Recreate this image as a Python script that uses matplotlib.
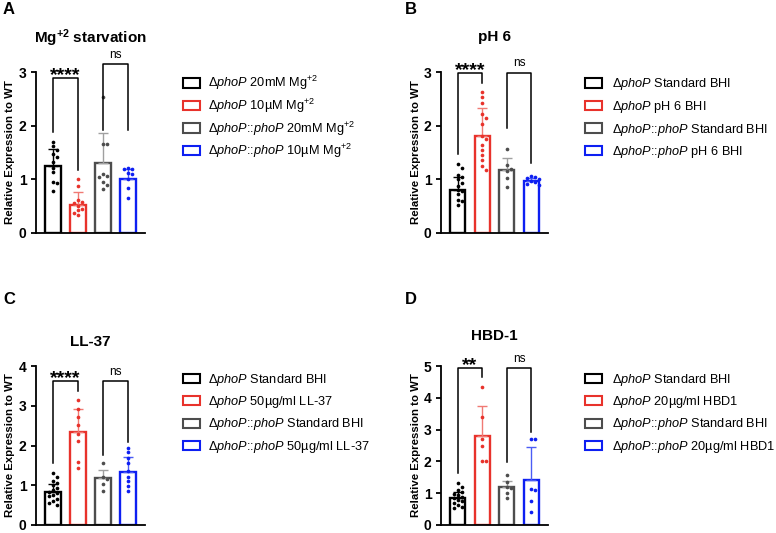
import numpy as np
import matplotlib
matplotlib.use("Agg")
import matplotlib.pyplot as plt
from matplotlib.patches import Rectangle

plt.rcParams['font.family'] = ['Liberation Sans', 'DejaVu Sans']
plt.rcParams['mathtext.fontset'] = 'custom'
plt.rcParams['mathtext.rm'] = 'Liberation Sans'
plt.rcParams['mathtext.it'] = 'Liberation Sans:italic'
plt.rcParams['mathtext.bf'] = 'Liberation Sans:bold'

# ---- data ----
a_means = [1.25, 0.53, 1.30, 1.01]
a_sd = [0.31, 0.23, 0.56, 0.19]
a_pts = [[1.70, 1.62, 1.55, 1.48, 1.41, 1.33, 1.22, 1.14, 0.95, 0.93, 0.78],
         [1.00, 0.88, 0.62, 0.58, 0.55, 0.50, 0.45, 0.42, 0.38, 0.33],
         [2.54, 1.66, 1.66, 1.10, 1.07, 1.04, 0.95, 0.90, 0.82],
         [1.21, 1.20, 1.19, 1.12, 1.10, 1.00, 0.83, 0.66]]
a_brackets = [(1.89, 1.17, 2.89, '****'), (1.92, 1.92, 3.15, 'ns')]
a_labels = ['Δ$\\mathit{phoP}$ 20mM Mg$^{+2}$', 'Δ$\\mathit{phoP}$ 10µM Mg$^{+2}$',
            'Δ$\\mathit{phoP}$::$\\mathit{phoP}$ 20mM Mg$^{+2}$',
            'Δ$\\mathit{phoP}$::$\\mathit{phoP}$ 10µM Mg$^{+2}$']

b_means = [0.80, 1.81, 1.17, 0.97]
b_sd = [0.25, 0.51, 0.22, 0.05]
b_pts = [[1.29, 1.22, 1.08, 1.04, 1.00, 0.93, 0.88, 0.80, 0.78, 0.72, 0.62, 0.60, 0.53],
         [2.63, 2.54, 2.42, 2.21, 2.14, 2.04, 1.81, 1.75, 1.64, 1.55, 1.45, 1.36, 1.24, 1.17],
         [1.56, 1.27, 1.20, 1.15, 1.02, 0.86],
         [1.06, 1.05, 1.03, 1.00, 0.97, 0.95, 0.92, 0.90]]
b_brackets = [(1.48, 2.79, 2.99, '****'), (1.95, 1.30, 2.99, 'ns')]
b_labels = ['Δ$\\mathit{phoP}$ Standard BHI', 'Δ$\\mathit{phoP}$ pH 6 BHI',
            'Δ$\\mathit{phoP}$::$\\mathit{phoP}$ Standard BHI',
            'Δ$\\mathit{phoP}$::$\\mathit{phoP}$ pH 6 BHI']

c_means = [0.82, 2.33, 1.17, 1.34]
c_sd = [0.22, 0.60, 0.21, 0.37]
c_pts = [[1.30, 1.20, 1.11, 1.05, 1.00, 0.92, 0.88, 0.84, 0.80, 0.75, 0.72, 0.65, 0.61, 0.55, 0.51],
         [3.15, 2.92, 2.72, 2.52, 2.30, 2.12, 1.58, 1.43],
         [1.56, 1.20, 1.15, 1.02, 0.86],
         [1.94, 1.83, 1.69, 1.57, 1.36, 1.22, 1.11, 0.99, 0.86]]
c_brackets = [(1.57, 3.36, 3.62, '****'), (1.77, 2.10, 3.62, 'ns')]
c_labels = ['Δ$\\mathit{phoP}$ Standard BHI', 'Δ$\\mathit{phoP}$ 50µg/ml LL-37',
            'Δ$\\mathit{phoP}$::$\\mathit{phoP}$ Standard BHI',
            'Δ$\\mathit{phoP}$::$\\mathit{phoP}$ 50µg/ml LL-37']

d_means = [0.84, 2.80, 1.18, 1.42]
d_sd = [0.21, 0.93, 0.21, 1.02]
d_pts = [[1.31, 1.21, 1.10, 1.05, 0.98, 0.95, 0.88, 0.84, 0.80, 0.74, 0.70, 0.64, 0.58, 0.53],
         [4.33, 3.40, 2.72, 2.48, 2.01, 2.01],
         [1.57, 1.36, 1.20, 1.16, 1.00, 0.84],
         [2.70, 2.72, 1.10, 1.12, 0.74, 0.41]]
d_brackets = [(1.63, 4.65, 4.94, '**'), (1.99, 2.93, 4.94, 'ns')]
d_labels = ['Δ$\\mathit{phoP}$ Standard BHI', 'Δ$\\mathit{phoP}$ 20µg/ml HBD1',
            'Δ$\\mathit{phoP}$::$\\mathit{phoP}$ Standard BHI',
            'Δ$\\mathit{phoP}$::$\\mathit{phoP}$ 20µg/ml HBD1']

titles = ['Mg$^{\\mathbf{+2}}$ starvation', 'pH 6', 'LL-37', 'HBD-1']
letters = ['A', 'B', 'C', 'D']
ymaxes = [3, 3, 4, 5]

colors = ['#000000', '#e8322b', '#4d4d4d', '#0d1ff2']
err_colors = ['#000000', '#f07a74', '#a0a0a0', '#4b5cf5']

W, H = 776, 533
fig = plt.figure(figsize=(W / 100, H / 100), dpi=100)


def fx(px):
    return px / W


def fy(px):
    return 1 - px / H


# layout in pixels: (left, right, top, bottom), title gap, legend box x, text x, first row y, letter y
layouts = [(36, 145, 72, 233, 29, 183, 208, 83, 10),
           (441, 548, 72, 233, 31, 585, 612, 83, 10),
           (36, 145, 366, 525, 20, 183, 208, 378, 300),
           (441, 548, 366, 525, 26, 585, 612, 378, 300)]


def spread(vals, px_y, px_x, d=4.0):
    # simple deterministic beeswarm so dots do not overlap
    vals = np.asarray(vals)
    order = np.argsort(-vals)
    placed = []
    xs = np.zeros(len(vals))
    for i in order:
        y = vals[i] * px_y
        x = 0.0
        for k in [0, 1, -1, 2, -2, 3, -3]:
            x = k * d
            if all((x - qx) ** 2 + (y - qy) ** 2 >= d * d for qx, qy in placed):
                break
        placed.append((x, y))
        xs[i] = x / px_x
    return xs


panels = [(a_means, a_sd, a_pts, a_brackets, a_labels),
          (b_means, b_sd, b_pts, b_brackets, b_labels),
          (c_means, c_sd, c_pts, c_brackets, c_labels),
          (d_means, d_sd, d_pts, d_brackets, d_labels)]

xlo, xhi = -0.68, 3.68
for p, (means, sds, pts, brackets, labels) in enumerate(panels):
    l, r, t, b, tgap, boxx, textx, row0, lety = layouts[p]
    ax = fig.add_axes([fx(l), fy(b), fx(r - l), (b - t) / H])
    ymax = ymaxes[p]
    ax.set_xlim(xlo, xhi)
    ax.set_ylim(0, ymax)
    px_x = (r - l) / (xhi - xlo)
    px_y = (b - t) / ymax

    x = np.arange(len(means))
    ax.bar(x, means, width=0.62, facecolor='white', edgecolor=colors,
           linewidth=1.7, zorder=2)
    for i in range(len(means)):
        ax.errorbar(x[i], means[i], yerr=[[0], [sds[i]]], fmt='none',
                    ecolor=err_colors[i], elinewidth=1.0, capsize=3.5,
                    capthick=1.0, zorder=3)
        jit = spread(pts[i], px_y, px_x)
        ax.scatter(x[i] + jit, pts[i], s=7, color=colors[i], zorder=4,
                   linewidths=0)

    for j, (yl, yr, top, lab) in enumerate(brackets):
        x0, x1 = 2 * j, 2 * j + 1
        ax.plot([x0, x0, x1, x1], [yl, top, top, yr], color='black', lw=1.1,
                clip_on=False, zorder=5)
        if lab == 'ns':
            ax.annotate(lab, ((x0 + x1) / 2, top), xytext=(0, 4.5),
                        textcoords='offset points', ha='center',
                        va='baseline', fontsize=8.5, annotation_clip=False)
        else:
            ax.annotate(lab, ((x0 + x1) / 2, top), xytext=(0, -1.5),
                        textcoords='offset points', ha='center',
                        va='baseline', fontsize=14, fontweight='bold',
                        annotation_clip=False)

    for s in ['top', 'right']:
        ax.spines[s].set_visible(False)
    for s in ['left', 'bottom']:
        ax.spines[s].set_linewidth(1.3)
    ax.set_xticks([])
    ax.set_yticks(range(ymax + 1))
    ax.tick_params(axis='y', length=3.8, width=1.3, pad=3, labelsize=10)
    for tl in ax.get_yticklabels():
        tl.set_fontweight('bold')
    ax.set_ylabel('Relative Expression to WT', fontsize=8.2, fontweight='bold')
    ax.yaxis.set_label_coords(-0.19, 0.5)

    fig.text(fx((l + r) / 2), fy(t - tgap), titles[p], ha='center',
             va='baseline', fontsize=11, fontweight='bold')
    fig.text(fx(boxx - 180), fy(lety), letters[p], ha='left', va='center',
             fontsize=12, fontweight='bold')

    # legend drawn by hand
    for k, lab in enumerate(labels):
        yc = row0 + k * 22.5
        fig.add_artist(Rectangle((fx(boxx), fy(yc + 4.5)), 17 / W, 9 / H,
                                 transform=fig.transFigure, facecolor='white',
                                 edgecolor=colors[k], linewidth=1.5))
        fig.text(fx(textx), fy(yc + 4.5), lab, ha='left', va='baseline',
                 fontsize=9.2)

fig.savefig('out.png', dpi=100)
